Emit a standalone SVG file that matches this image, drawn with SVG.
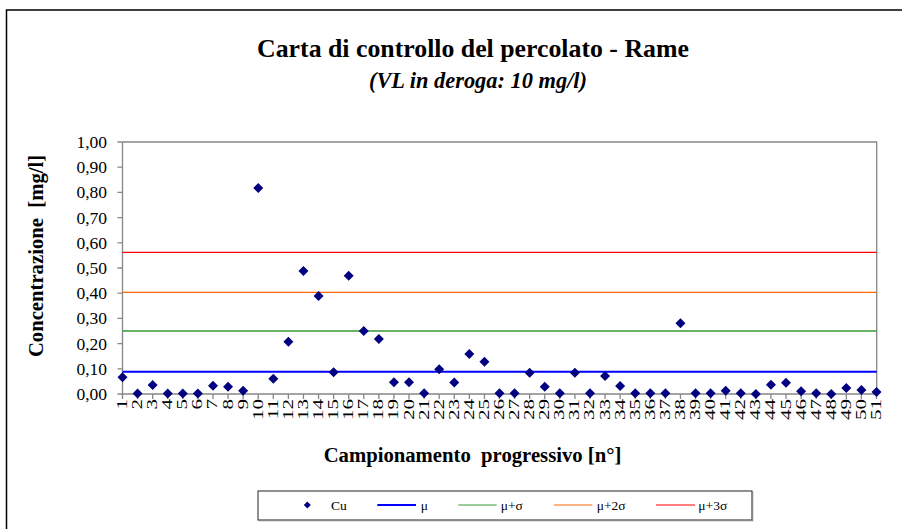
<svg xmlns="http://www.w3.org/2000/svg" xmlns:xlink="http://www.w3.org/1999/xlink" width="902" height="529" viewBox="0 0 902 529">
<defs>
<style>
.t{font-family:"Liberation Serif","Times New Roman",serif;fill:#000}
.title{font-size:25.8px;font-weight:bold}
.sub{font-size:22.4px;font-weight:bold;font-style:italic}
.axt{font-size:20.7px;font-weight:bold;white-space:pre}
.yl{font-size:17.5px;text-anchor:end}
.xl{font-size:14.5px;text-anchor:end}
.lg{font-size:13.5px}
.ax{stroke:#868686;stroke-width:1.3;fill:none}
.mu{stroke:#0000FF;stroke-width:2}
.s1{stroke:#339933;stroke-width:1.3}
.s2{stroke:#FF6600;stroke-width:1.3}
.s3{stroke:#FF0000;stroke-width:1.3}
.pt{fill:#000080}
</style>
<path id="d" d="M0,-5 L5,0 L0,5 L-5,0Z"/>
</defs>
<rect width="902" height="529" fill="#fff"/>
<path d="M6.5,529 V10 H902" stroke="#000" stroke-width="1.5" fill="none"/>
<g id="titles">
<text class="t title" x="473" y="57" text-anchor="middle">Carta di controllo del percolato - Rame</text>
<text class="t sub" x="478" y="88" text-anchor="middle">(VL in deroga: 10 mg/l)</text>
<text class="t axt" x="472.5" y="462" text-anchor="middle" xml:space="preserve">Campionamento  progressivo [n°]</text>
<text class="t axt" transform="translate(43,256) rotate(-90)" text-anchor="middle" xml:space="preserve">Concentrazione  [mg/l]</text>
</g>
<g id="plot-area">
<path class="ax" d="M122.5,142 H876.7 V394"/>
<path class="ax" d="M122.5,142 V394 H876.7"/>
<path class="ax" d="M117.5,394H122.5M117.5,368.8H122.5M117.5,343.6H122.5M117.5,318.4H122.5M117.5,293.2H122.5M117.5,268H122.5M117.5,242.8H122.5M117.5,217.6H122.5M117.5,192.4H122.5M117.5,167.2H122.5M117.5,142H122.5"/>
<path class="ax" d="M122.5,394v5M137.58,394v5M152.66,394v5M167.74,394v5M182.82,394v5M197.9,394v5M212.98,394v5M228.06,394v5M243.14,394v5M258.22,394v5M273.3,394v5M288.38,394v5M303.46,394v5M318.54,394v5M333.62,394v5M348.7,394v5M363.78,394v5M378.86,394v5M393.94,394v5M409.02,394v5M424.1,394v5M439.18,394v5M454.26,394v5M469.34,394v5M484.42,394v5M499.5,394v5M514.58,394v5M529.66,394v5M544.74,394v5M559.82,394v5M574.9,394v5M589.98,394v5M605.06,394v5M620.14,394v5M635.22,394v5M650.3,394v5M665.38,394v5M680.46,394v5M695.54,394v5M710.62,394v5M725.7,394v5M740.78,394v5M755.86,394v5M770.94,394v5M786.02,394v5M801.1,394v5M816.18,394v5M831.26,394v5M846.34,394v5M861.42,394v5M876.5,394v5"/>
</g>
<g id="y-labels" class="t yl">
<text x="107" y="400">0,00</text>
<text x="107" y="374.8">0,10</text>
<text x="107" y="349.6">0,20</text>
<text x="107" y="324.4">0,30</text>
<text x="107" y="299.2">0,40</text>
<text x="107" y="274">0,50</text>
<text x="107" y="248.8">0,60</text>
<text x="107" y="223.6">0,70</text>
<text x="107" y="198.4">0,80</text>
<text x="107" y="173.2">0,90</text>
<text x="107" y="148">1,00</text>
</g>
<g id="x-labels" class="t xl">
<text transform="translate(127,399) rotate(-90) scale(1.45,1)">1</text>
<text transform="translate(142.08,399) rotate(-90) scale(1.45,1)">2</text>
<text transform="translate(157.16,399) rotate(-90) scale(1.45,1)">3</text>
<text transform="translate(172.24,399) rotate(-90) scale(1.45,1)">4</text>
<text transform="translate(187.32,399) rotate(-90) scale(1.45,1)">5</text>
<text transform="translate(202.4,399) rotate(-90) scale(1.45,1)">6</text>
<text transform="translate(217.48,399) rotate(-90) scale(1.45,1)">7</text>
<text transform="translate(232.56,399) rotate(-90) scale(1.45,1)">8</text>
<text transform="translate(247.64,399) rotate(-90) scale(1.45,1)">9</text>
<text transform="translate(262.72,399) rotate(-90) scale(1.45,1)">10</text>
<text transform="translate(277.8,399) rotate(-90) scale(1.45,1)">11</text>
<text transform="translate(292.88,399) rotate(-90) scale(1.45,1)">12</text>
<text transform="translate(307.96,399) rotate(-90) scale(1.45,1)">13</text>
<text transform="translate(323.04,399) rotate(-90) scale(1.45,1)">14</text>
<text transform="translate(338.12,399) rotate(-90) scale(1.45,1)">15</text>
<text transform="translate(353.2,399) rotate(-90) scale(1.45,1)">16</text>
<text transform="translate(368.28,399) rotate(-90) scale(1.45,1)">17</text>
<text transform="translate(383.36,399) rotate(-90) scale(1.45,1)">18</text>
<text transform="translate(398.44,399) rotate(-90) scale(1.45,1)">19</text>
<text transform="translate(413.52,399) rotate(-90) scale(1.45,1)">20</text>
<text transform="translate(428.6,399) rotate(-90) scale(1.45,1)">21</text>
<text transform="translate(443.68,399) rotate(-90) scale(1.45,1)">22</text>
<text transform="translate(458.76,399) rotate(-90) scale(1.45,1)">23</text>
<text transform="translate(473.84,399) rotate(-90) scale(1.45,1)">24</text>
<text transform="translate(488.92,399) rotate(-90) scale(1.45,1)">25</text>
<text transform="translate(504,399) rotate(-90) scale(1.45,1)">26</text>
<text transform="translate(519.08,399) rotate(-90) scale(1.45,1)">27</text>
<text transform="translate(534.16,399) rotate(-90) scale(1.45,1)">28</text>
<text transform="translate(549.24,399) rotate(-90) scale(1.45,1)">29</text>
<text transform="translate(564.32,399) rotate(-90) scale(1.45,1)">30</text>
<text transform="translate(579.4,399) rotate(-90) scale(1.45,1)">31</text>
<text transform="translate(594.48,399) rotate(-90) scale(1.45,1)">32</text>
<text transform="translate(609.56,399) rotate(-90) scale(1.45,1)">33</text>
<text transform="translate(624.64,399) rotate(-90) scale(1.45,1)">34</text>
<text transform="translate(639.72,399) rotate(-90) scale(1.45,1)">35</text>
<text transform="translate(654.8,399) rotate(-90) scale(1.45,1)">36</text>
<text transform="translate(669.88,399) rotate(-90) scale(1.45,1)">37</text>
<text transform="translate(684.96,399) rotate(-90) scale(1.45,1)">38</text>
<text transform="translate(700.04,399) rotate(-90) scale(1.45,1)">39</text>
<text transform="translate(715.12,399) rotate(-90) scale(1.45,1)">40</text>
<text transform="translate(730.2,399) rotate(-90) scale(1.45,1)">41</text>
<text transform="translate(745.28,399) rotate(-90) scale(1.45,1)">42</text>
<text transform="translate(760.36,399) rotate(-90) scale(1.45,1)">43</text>
<text transform="translate(775.44,399) rotate(-90) scale(1.45,1)">44</text>
<text transform="translate(790.52,399) rotate(-90) scale(1.45,1)">45</text>
<text transform="translate(805.6,399) rotate(-90) scale(1.45,1)">46</text>
<text transform="translate(820.68,399) rotate(-90) scale(1.45,1)">47</text>
<text transform="translate(835.76,399) rotate(-90) scale(1.45,1)">48</text>
<text transform="translate(850.84,399) rotate(-90) scale(1.45,1)">49</text>
<text transform="translate(865.92,399) rotate(-90) scale(1.45,1)">50</text>
<text transform="translate(881,399) rotate(-90) scale(1.45,1)">51</text>
</g>
<g id="connectors">
<line class="s3" x1="122.5" y1="252.3" x2="876.7" y2="252.3"/>
<line class="s2" x1="122.5" y1="292.3" x2="876.7" y2="292.3"/>
<line class="s1" x1="122.5" y1="331" x2="876.7" y2="331"/>
<line class="mu" x1="122.5" y1="371.7" x2="876.7" y2="371.7"/>
</g>
<g id="series-Cu" class="pt">
<use xlink:href="#d" x="122.5" y="377.3"/>
<use xlink:href="#d" x="137.58" y="393.5"/>
<use xlink:href="#d" x="152.66" y="385"/>
<use xlink:href="#d" x="167.74" y="393.5"/>
<use xlink:href="#d" x="182.82" y="393.5"/>
<use xlink:href="#d" x="197.9" y="393.5"/>
<use xlink:href="#d" x="212.98" y="385.7"/>
<use xlink:href="#d" x="228.06" y="386.7"/>
<use xlink:href="#d" x="243.14" y="390.7"/>
<use xlink:href="#d" x="258.22" y="188"/>
<use xlink:href="#d" x="273.3" y="378.7"/>
<use xlink:href="#d" x="288.38" y="341.7"/>
<use xlink:href="#d" x="303.46" y="271"/>
<use xlink:href="#d" x="318.54" y="296"/>
<use xlink:href="#d" x="333.62" y="372.3"/>
<use xlink:href="#d" x="348.7" y="275.7"/>
<use xlink:href="#d" x="363.78" y="331"/>
<use xlink:href="#d" x="378.86" y="339"/>
<use xlink:href="#d" x="393.94" y="382.3"/>
<use xlink:href="#d" x="409.02" y="382.3"/>
<use xlink:href="#d" x="424.1" y="393.3"/>
<use xlink:href="#d" x="439.18" y="369.3"/>
<use xlink:href="#d" x="454.26" y="382.5"/>
<use xlink:href="#d" x="469.34" y="354"/>
<use xlink:href="#d" x="484.42" y="361.7"/>
<use xlink:href="#d" x="499.5" y="393.3"/>
<use xlink:href="#d" x="514.58" y="393.3"/>
<use xlink:href="#d" x="529.66" y="372.7"/>
<use xlink:href="#d" x="544.74" y="386.7"/>
<use xlink:href="#d" x="559.82" y="393.3"/>
<use xlink:href="#d" x="574.9" y="372.7"/>
<use xlink:href="#d" x="589.98" y="393.3"/>
<use xlink:href="#d" x="605.06" y="376"/>
<use xlink:href="#d" x="620.14" y="386"/>
<use xlink:href="#d" x="635.22" y="393.3"/>
<use xlink:href="#d" x="650.3" y="393.3"/>
<use xlink:href="#d" x="665.38" y="393.3"/>
<use xlink:href="#d" x="680.46" y="323.3"/>
<use xlink:href="#d" x="695.54" y="393.3"/>
<use xlink:href="#d" x="710.62" y="393.3"/>
<use xlink:href="#d" x="725.7" y="390.7"/>
<use xlink:href="#d" x="740.78" y="393.3"/>
<use xlink:href="#d" x="755.86" y="394"/>
<use xlink:href="#d" x="770.94" y="384.7"/>
<use xlink:href="#d" x="786.02" y="382.7"/>
<use xlink:href="#d" x="801.1" y="391.3"/>
<use xlink:href="#d" x="816.18" y="393.3"/>
<use xlink:href="#d" x="831.26" y="394"/>
<use xlink:href="#d" x="846.34" y="388"/>
<use xlink:href="#d" x="861.42" y="390"/>
<use xlink:href="#d" x="876.5" y="392"/>
</g>
<g id="legend">
<rect x="258" y="491" width="494" height="29" fill="#fff" stroke="#222" stroke-width="1"/>
<path d="M258.5,520.5 H752.5 V491.5" stroke="#888" stroke-width="1.5" fill="none"/>
<path class="pt" d="M307.3,501.5 L310.8,505 L307.3,508.5 L303.8,505Z"/>
<text class="t lg" x="331" y="510">Cu</text>
<line class="mu" x1="377.3" y1="505" x2="416" y2="505"/>
<text class="t lg" x="420.7" y="510">μ</text>
<line class="s1" x1="458.3" y1="505" x2="496.7" y2="505" style="stroke-width:1"/>
<text class="t lg" x="500.7" y="510">μ+σ</text>
<line class="s2" x1="554" y1="505" x2="592.3" y2="505" style="stroke-width:1"/>
<text class="t lg" x="596.7" y="510">μ+2σ</text>
<line class="s3" x1="656" y1="505" x2="695" y2="505" style="stroke-width:1"/>
<text class="t lg" x="698.3" y="510">μ+3σ</text>
</g>
</svg>
